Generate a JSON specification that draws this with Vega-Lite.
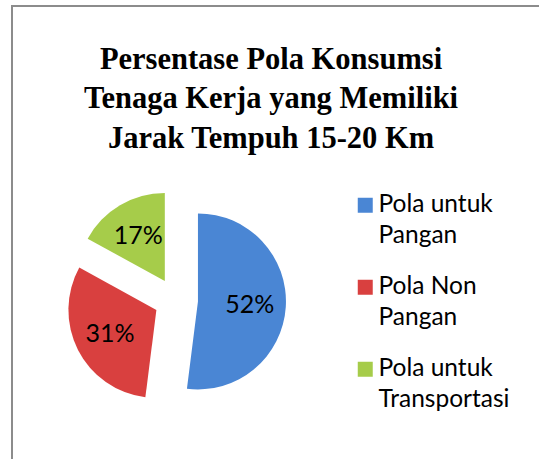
{
  "$schema": "https://vega.github.io/schema/vega-lite/v6.json",
  "width": 560,
  "height": 480,
  "autosize": "none",
  "padding": {"left": 12, "top": 6, "right": 0, "bottom": 0},
  "background": "white",
  "view": {"stroke": "#8c8c8c", "strokeWidth": 2, "fill": "white"},
  "title": {
    "text": ["Persentase Pola Konsumsi", "Tenaga Kerja yang Memiliki", "Jarak Tempuh 15-20 Km"],
    "font": "Liberation Serif",
    "fontSize": 30.5,
    "fontWeight": "bold",
    "color": "black",
    "anchor": "middle",
    "frame": "group",
    "baseline": "top",
    "lineHeight": 39.5,
    "offset": 0,
    "dx": -21,
    "dy": 148
  },
  "data": {
    "values": [
      {"kategori": "Pola untuk Pangan", "persen": 0.52, "urutan": 1},
      {"kategori": "Pola Non Pangan", "persen": 0.31, "urutan": 2},
      {"kategori": "Pola untuk Transportasi", "persen": 0.17, "urutan": 3}
    ]
  },
  "encoding": {
    "theta": {"field": "persen", "type": "quantitative", "stack": true},
    "order": {"field": "urutan", "type": "quantitative"}
  },
  "layer": [
    {
      "mark": {
        "type": "arc",
        "x": 164,
        "y": 294,
        "outerRadius": 88,
        "xOffset": {"expr": "22*sin(PI*(datum.persen_start+datum.persen_end))"},
        "yOffset": {"expr": "-22*cos(PI*(datum.persen_start+datum.persen_end))"}
      },
      "encoding": {
        "color": {
          "field": "kategori",
          "type": "nominal",
          "scale": {
            "domain": ["Pola untuk Pangan", "Pola Non Pangan", "Pola untuk Transportasi"],
            "range": ["#4a86d4", "#d9403f", "#a6cc4a"]
          },
          "legend": {
            "orient": "none",
            "legendX": 341,
            "legendY": 187,
            "title": null,
            "symbolType": "square",
            "symbolSize": 225,
            "symbolStrokeWidth": 0,
            "labelFont": "Lato",
            "labelFontSize": 24.5,
            "labelColor": "black",
            "labelLimit": 300,
            "labelOffset": 1,
            "rowPadding": 26,
            "labelExpr": "[join(slice(split(datum.label,' '),0,2),' '), join(slice(split(datum.label,' '),2),' ')]",
            "encode": {"labels": {"update": {"lineHeight": {"value": 31}}}}
          }
        }
      }
    },
    {
      "mark": {
        "type": "text",
        "x": 164,
        "y": 294,
        "radius": 52,
        "font": "Lato",
        "fontSize": 25,
        "color": "black",
        "xOffset": {"expr": "22*sin(PI*(datum.persen_start+datum.persen_end))"},
        "yOffset": {"expr": "-22*cos(PI*(datum.persen_start+datum.persen_end))"}
      },
      "encoding": {
        "text": {"field": "persen", "type": "quantitative", "format": ".0%"}
      }
    }
  ]
}
